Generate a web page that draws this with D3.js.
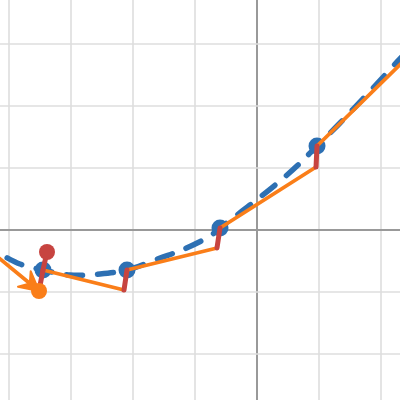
<!DOCTYPE html>
<html>
<head>
<meta charset="utf-8">
<script src="https://cdn.jsdelivr.net/npm/d3@7"></script>
<style>
  body { margin: 0; background: #fff; }
  svg { display: block; }
</style>
</head>
<body>
<svg id="chart" width="400" height="400"></svg>
<script>
// exact solution curve (samples)
var curveX = [-4.468, -4.145, -3.823, -3.452, -3.016, -2.532, -2.097, -1.565, -1.210, -0.758, -0.597,
              -0.113, 0.371, 0.661, 0.968, 1.339, 1.613, 1.871, 2.258, 2.468];
var curveY = [-0.210, -0.387, -0.548, -0.645, -0.726, -0.710, -0.645, -0.452, -0.323, -0.097, 0.032,
              0.403, 0.790, 1.048, 1.355, 1.726, 2.016, 2.290, 2.710, 2.935];

// points on the curve (blue)
var stepX = [-3.452, -2.097, -0.597, 0.968];
var stepY = [-0.645, -0.645, 0.032, 1.355];

// predicted points (end of each orange step)
var predX = [-3.516, -2.145, -0.645, 0.952];
var predY = [-0.984, -0.968, -0.290, 1.016];

// first orange step (with arrow) and last one
var arrowStart = [-4.790, 0.065];
var lastEnd = [2.629, 2.984];

// red marker above the first point
var markX = -3.387, markY = -0.355;

var svg = d3.select("#chart"),
  width = +svg.attr("width"),
  height = +svg.attr("height");

var unit = 62, ox = 257, oy = 230;
var x = d3.scaleLinear().domain([-ox / unit, (width - ox) / unit]).range([0, width]);
var y = d3.scaleLinear().domain([-(height - oy) / unit, oy / unit]).range([height, 0]);

var blue = "#2d70b3", orange = "#fa7e19", red = "#c74440";

svg.append("defs").append("clipPath").attr("id", "clip")
  .append("rect").attr("width", width).attr("height", height);

var g = svg.append("g").attr("clip-path", "url(#clip)");

// grid
g.selectAll(".gx").data(d3.range(-5, 4)).enter().append("line")
  .attr("x1", d => x(d)).attr("x2", d => x(d))
  .attr("y1", 0).attr("y2", height)
  .attr("stroke", d => d == 0 ? "#999" : "#dedede")
  .attr("stroke-width", d => d == 0 ? 2 : 1.6)
g.selectAll(".gy").data(d3.range(-3, 5)).enter().append("line")
  .attr("y1", d => y(d)).attr("y2", d => y(d))
  .attr("x1", 0).attr("x2", width)
  .attr("stroke", d => d == 0 ? "#999" : "#dedede")
  .attr("stroke-width", d => d == 0 ? 2 : 1.6)

// dashed exact curve
var curve = curveX.map((d, i) => [d, curveY[i]]);
g.append("path")
  .datum(curve)
  .attr("d", d3.line().x(d => x(d[0])).y(d => y(d[1])).curve(d3.curveCatmullRom))
  .attr("fill", "none")
  .attr("stroke", blue)
  .attr("stroke-width", 5.5)
  .attr("stroke-linecap", "round")
  .attr("stroke-dasharray", "16,15")

// blue points
g.selectAll(".pt").data(stepX).enter().append("circle")
  .attr("cx", d => x(d)).attr("cy", (d, i) => y(stepY[i]))
  .attr("r", 8.5).attr("fill", blue)

// orange steps
var segs = [[arrowStart, [predX[0], predY[0]]]];
for (var i = 1; i < stepX.length; i++) {
  segs.push([[stepX[i - 1], stepY[i - 1]], [predX[i], predY[i]]]);
}
segs.push([[stepX[stepX.length - 1], stepY[stepY.length - 1]], lastEnd]);

g.selectAll(".step").data(segs).enter().append("line")
  .attr("x1", d => x(d[0][0])).attr("y1", d => y(d[0][1]))
  .attr("x2", d => x(d[1][0])).attr("y2", d => y(d[1][1]))
  .attr("stroke", orange).attr("stroke-width", 3.8).attr("stroke-linecap", "round")

// arrow head on the first step
var tx = x(predX[0]), ty = y(predY[0]);
var dx = tx - x(arrowStart[0]), dy = ty - y(arrowStart[1]);
var len = Math.sqrt(dx * dx + dy * dy);
var ux = dx / len, uy = dy / len;
var headPts = [
  [tx, ty],
  [tx - 19 * ux - 10 * uy, ty - 19 * uy + 10 * ux],
  [tx - 12 * ux, ty - 12 * uy],
  [tx - 19 * ux + 10 * uy, ty - 19 * uy - 10 * ux]
];
g.append("path")
  .attr("d", "M" + headPts.map(p => p.join(",")).join("L") + "Z")
  .attr("fill", orange).attr("stroke", orange).attr("stroke-width", 2).attr("stroke-linejoin", "round")

// red corrections
g.selectAll(".err").data(stepX).enter().append("line")
  .attr("x1", (d, i) => x(predX[i])).attr("y1", (d, i) => y(predY[i]))
  .attr("x2", d => x(d)).attr("y2", (d, i) => y(stepY[i]))
  .attr("stroke", red).attr("stroke-width", 5).attr("stroke-linecap", "round")

// red marker
g.append("line")
  .attr("x1", x(stepX[0])).attr("y1", y(stepY[0]))
  .attr("x2", x(markX)).attr("y2", y(markY))
  .attr("stroke", red).attr("stroke-width", 5).attr("stroke-linecap", "round")
g.append("circle")
  .attr("cx", x(markX)).attr("cy", y(markY))
  .attr("r", 8).attr("fill", red)

// orange point at the first prediction
g.append("circle")
  .attr("cx", tx).attr("cy", ty)
  .attr("r", 8).attr("fill", orange)
</script>
</body>
</html>
